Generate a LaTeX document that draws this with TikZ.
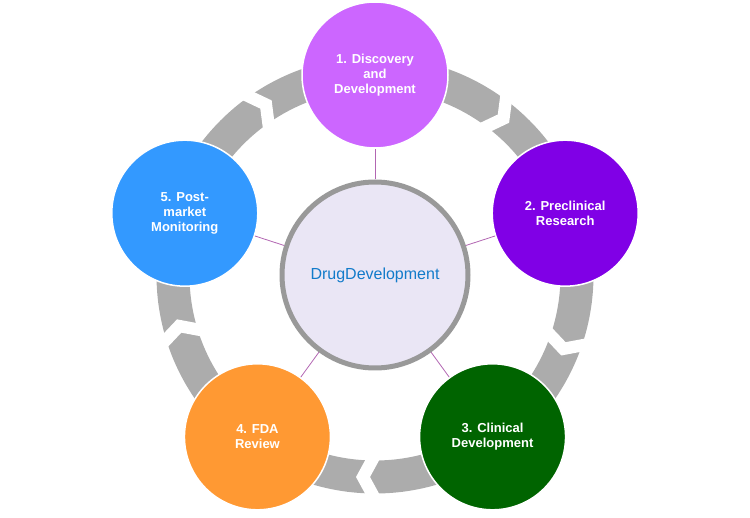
\documentclass[tikz,border=0pt]{standalone}
\usepackage{fontspec}
\setmainfont{Liberation Sans}
\begin{document}
\begin{tikzpicture}[x=1pt,y=1pt,
  stage/.style={circle,draw=white,line width=1.5pt,minimum size=146pt,inner sep=0pt,text=white,font=\bfseries\fontsize{13}{15}\selectfont,align=center},
  spoke/.style={draw=violet!60,line width=0.8pt},
  chev/.style={fill=white,draw=none}]
\useasboundingbox (0,0) rectangle (750,517);
\coordinate (c) at (375,242);
% ring
\draw[line width=33pt,color=gray!65] (c) circle (202);
% chevrons
\foreach \a in {54,-18,-90,-162,126}{
  \fill[white,shift={(c)},rotate=\a] (180,7) -- (202,-5) -- (224,7) -- (224,-7) -- (202,-19) -- (180,-7) -- cycle;
}
\node[circle,draw=gray!80,line width=5pt,fill=cyan!8!blue!8,minimum size=186pt] (mid) at (c)
 {\textcolor{cyan!60!blue}{\fontsize{16}{19}\selectfont\textsc{Drug}\\[2pt]\textsc{Development}}};
\node[stage,fill={rgb,255:red,204;green,102;blue,255}] (s1) at ([shift={(90:200)}]c) {1. Discovery\\and\\Development};
\node[stage,fill={rgb,255:red,128;green,0;blue,230}] (s2) at ([shift={(18:200)}]c) {2. Preclinical\\Research};
\node[stage,fill={rgb,255:red,0;green,100;blue,0}] (s3) at ([shift={(-54:200)}]c) {3. Clinical\\Development};
\node[stage,fill={rgb,255:red,255;green,153;blue,51}] (s4) at ([shift={(-126:200)}]c) {4. FDA\\Review};
\node[stage,fill={rgb,255:red,51;green,153;blue,255}] (s5) at ([shift={(162:200)}]c) {5. Post-\\market\\Monitoring};
\foreach \s in {s1,s2,s3,s4,s5}{\draw[spoke] (mid) -- (\s);}
\end{tikzpicture}
\end{document}
